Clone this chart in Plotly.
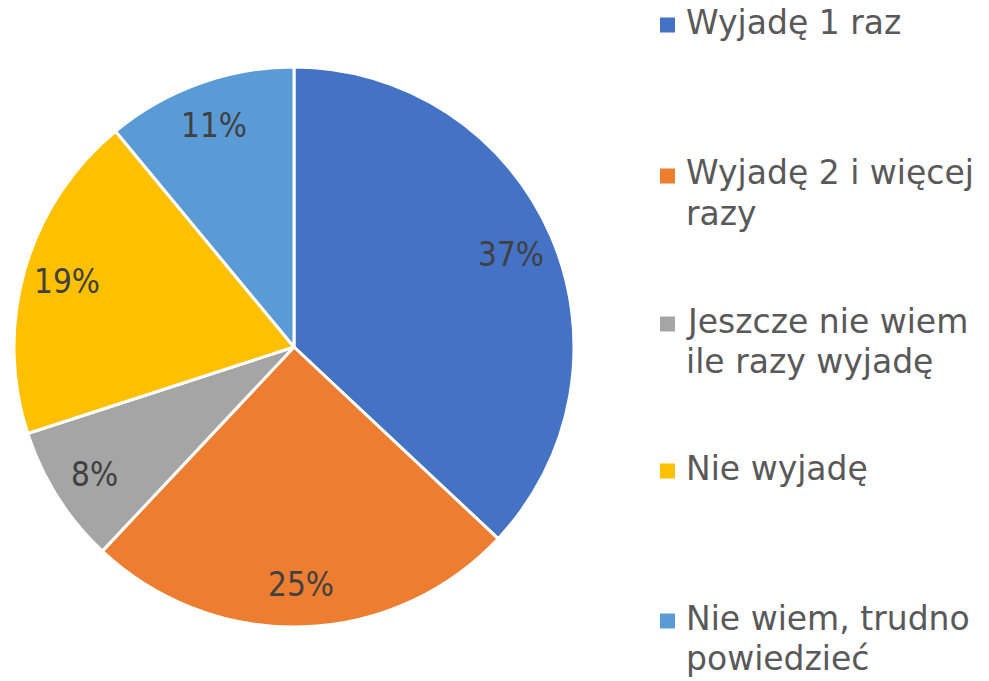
import math
import plotly.graph_objects as go

labels = ["Wyjadę 1 raz", "Wyjadę 2 i więcej razy", "Jeszcze nie wiem ile razy wyjadę",
          "Nie wyjadę", "Nie wiem, trudno powiedzieć"]
legend_lines = [["Wyjadę 1 raz"], ["Wyjadę 2 i więcej", "razy"], ["Jeszcze nie wiem", "ile razy wyjadę"],
                ["Nie wyjadę"], ["Nie wiem, trudno", "powiedzieć"]]
values = [37, 25, 8, 19, 11]
colors = ["#4472C4", "#ED7D31", "#A5A5A5", "#FFC000", "#5B9BD5"]

W, H = 989, 681
CX, CY, R = 294, 347, 280

fig = go.Figure(go.Pie(
    labels=labels, values=values, sort=False, direction="clockwise", rotation=0,
    marker=dict(colors=colors, line=dict(color="white", width=3)),
    textinfo="none",
    domain=dict(x=[(CX - R) / W, (CX + R) / W], y=[(H - CY - R) / H, (H - CY + R) / H]),
    showlegend=False, hoverinfo="label+percent",
))

annotations = []
# data labels placed Excel-style at a fixed fraction of the radius, at each slice's mid-angle
total = sum(values)
cum = 0
for v in values:
    mid = (cum + v / 2) / total * 2 * math.pi
    cum += v
    px = CX + 0.845 * R * math.sin(mid)
    py = CY - 0.845 * R * math.cos(mid)
    annotations.append(dict(text=f"{v}%", xref="paper", yref="paper", x=px / W, y=1 - (py + 1) / H,
                            xanchor="center", yanchor="middle", showarrow=False,
                            font=dict(family="Liberation Sans Narrow, DejaVu Sans Condensed, sans-serif",
                                      size=33, color="#404040")))

# legend drawn manually
sq_y = [25, 176, 324, 471, 621]
line_h = 40
shapes = []
for i, (lines, col) in enumerate(zip(legend_lines, colors)):
    yc = sq_y[i]
    shapes.append(dict(type="rect", xref="paper", yref="paper",
                       x0=660 / W, x1=675 / W, y0=1 - (yc - 7.5) / H, y1=1 - (yc + 7.5) / H,
                       fillcolor=col, line=dict(width=0)))
    for j, ln in enumerate(lines):
        annotations.append(dict(text=ln, xref="paper", yref="paper", x=684 / W,
                                y=1 - (yc - 3 + j * line_h) / H, xanchor="left", yanchor="middle",
                                showarrow=False,
                                font=dict(family="DejaVu Sans", size=33, color="#595959")))

fig.update_layout(
    width=W, height=H, margin=dict(l=0, r=0, t=0, b=0),
    paper_bgcolor="white", plot_bgcolor="white",
    shapes=shapes, annotations=annotations,
)
fig.write_html("out.html", post_script="document.body.style.margin='0';",
               config={"displayModeBar": False})
